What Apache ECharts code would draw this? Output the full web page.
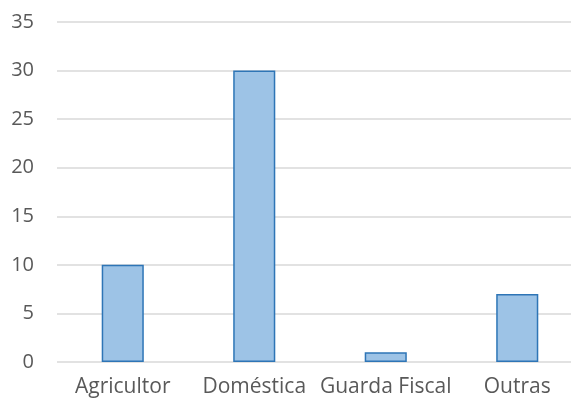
<!DOCTYPE html>
<html><head><meta charset="utf-8">
<script src="https://cdn.jsdelivr.net/npm/echarts@6/dist/echarts.min.js"></script>
<style>html,body{margin:0;padding:0;background:#fff;overflow:hidden}body{width:571px;height:403px}#c{width:583px;height:403px}</style>
</head><body><div id="c"></div>
<script>
const categories = ["Agricultor", "Doméstica", "Guarda Fiscal", "Outras"];
const values = [10, 30, 1, 7];
const yMin = 0, yMax = 35, yStep = 5;

const chart = echarts.init(document.getElementById('c'), null, {renderer: 'canvas'});
chart.setOption({
  animation: false,
  backgroundColor: '#fff',
  grid: {left: 57, right: 0, top: 22, bottom: 41, containLabel: false, outerBoundsMode: 'none'},
  xAxis: {
    type: 'category', data: categories,
    axisLine: {show: false}, axisTick: {show: false},
    axisLabel: {color: '#595959', fontFamily: 'Open Sans', fontSize: 21, margin: 15, interval: 0}
  },
  yAxis: {
    type: 'value', min: yMin, max: yMax, interval: yStep,
    axisLine: {show: false}, axisTick: {show: false},
    splitLine: {lineStyle: {color: '#d9d9d9', width: 1.5}},
    axisLabel: {color: '#595959', fontFamily: 'Open Sans', fontSize: 20, margin: 23}
  },
  series: [{
    type: 'bar', data: values, barWidth: '32%',
    itemStyle: {color: '#9DC3E6', borderColor: '#2E75B6', borderWidth: 1.5}
  }]
});
</script></body></html>
